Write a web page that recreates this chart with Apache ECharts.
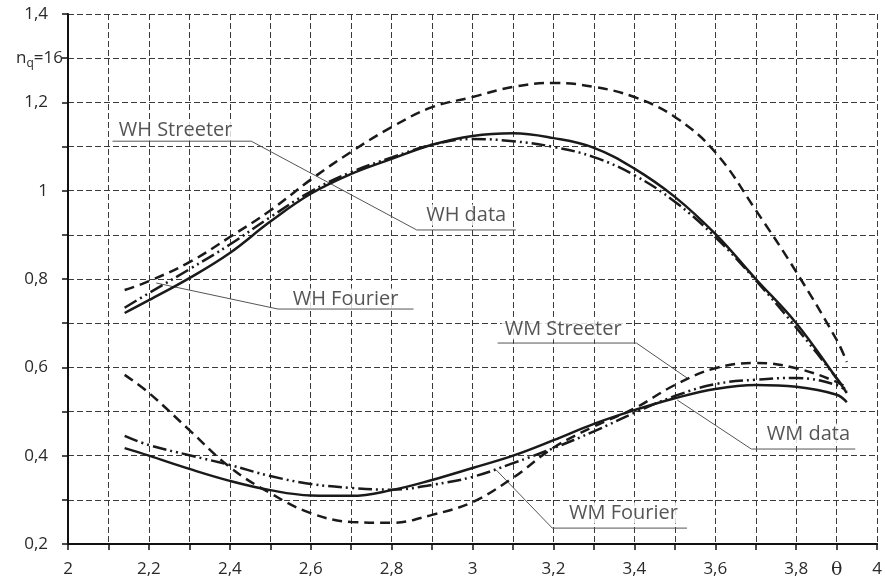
<!DOCTYPE html>
<html>
<head>
<meta charset="utf-8">
<script src="https://cdn.jsdelivr.net/npm/echarts@6/dist/echarts.min.js"></script>
<style>
  html, body { margin: 0; padding: 0; background: #fff; }
  #chart { width: 885px; height: 583px; }
</style>
</head>
<body>
<div id="chart"></div>
<script>
var thetas = [2.14, 2.2, 2.3, 2.4, 2.5, 2.6, 2.7, 2.8, 2.9, 3.0, 3.1, 3.2, 3.3, 3.4, 3.5, 3.6, 3.7, 3.8, 3.9, 3.925];

var whData     = [0.723, 0.752, 0.802, 0.859, 0.93, 0.993, 1.038, 1.072, 1.104, 1.124, 1.13, 1.119, 1.097, 1.05, 0.986, 0.902, 0.8, 0.7, 0.575, 0.542];
var whStreeter = [0.775, 0.795, 0.838, 0.895, 0.955, 1.025, 1.088, 1.144, 1.189, 1.212, 1.235, 1.244, 1.235, 1.212, 1.167, 1.087, 0.956, 0.816, 0.662, 0.612];
var whFourier  = [0.735, 0.768, 0.822, 0.878, 0.94, 0.998, 1.042, 1.075, 1.104, 1.117, 1.112, 1.099, 1.076, 1.035, 0.975, 0.895, 0.797, 0.69, 0.575, 0.545];

var wmData     = [0.417, 0.4, 0.37, 0.343, 0.322, 0.31, 0.309, 0.322, 0.345, 0.372, 0.4, 0.435, 0.472, 0.503, 0.53, 0.551, 0.56, 0.556, 0.538, 0.521];
var wmStreeter = [0.583, 0.542, 0.458, 0.374, 0.315, 0.27, 0.25, 0.248, 0.266, 0.295, 0.35, 0.418, 0.466, 0.507, 0.56, 0.598, 0.61, 0.598, 0.567, 0.553];
var wmFourier  = [0.445, 0.424, 0.401, 0.379, 0.354, 0.336, 0.327, 0.323, 0.334, 0.352, 0.383, 0.417, 0.455, 0.497, 0.535, 0.562, 0.572, 0.576, 0.56, 0.545];

// annotation texts and their leader lines (data coords)
var noteNames = ['WH Streeter', 'WH data', 'WH Fourier', 'WM Streeter', 'WM data', 'WM Fourier'];
var notePos = [[2.118, 1.137], [2.878, 0.945], [2.548, 0.755], [3.072, 0.687], [3.72, 0.449], [3.231, 0.270]];
var leaders = [
  [[2.110, 1.112], [2.453, 1.112], [2.862, 0.911], [3.107, 0.911]],
  [[2.218, 0.791], [2.519, 0.732], [2.854, 0.732]],
  [[3.062, 0.655], [3.405, 0.655], [3.530, 0.576]],
  [[3.506, 0.526], [3.689, 0.415], [3.946, 0.415]],
  [[3.058, 0.368], [3.197, 0.236], [3.530, 0.236]]
];

var FONT = '"Open Sans", "DejaVu Sans", sans-serif';
var INK = '#1a1a1a';

function pairs(ys) {
  return thetas.map(function (t, i) { return [t, ys[i]]; });
}

function curve(name, ys, dash) {
  return {
    name: name,
    type: 'line',
    data: pairs(ys),
    smooth: 0.4,
    symbol: 'none',
    z: 4,
    lineStyle: { color: INK, width: 2.5, type: dash, cap: 'butt' }
  };
}

var myChart = echarts.init(document.getElementById('chart'));

var series = [
  curve('WH data', whData, 'solid'),
  curve('WH Streeter', whStreeter, [10, 6]),
  curve('WH Fourier', whFourier, [14, 4, 2, 4, 2, 4]),
  curve('WM data', wmData, 'solid'),
  curve('WM Streeter', wmStreeter, [10, 6]),
  curve('WM Fourier', wmFourier, [14, 4, 2, 4, 2, 4])
];

leaders.forEach(function (pts) {
  series.push({
    type: 'line',
    data: pts,
    symbol: 'none',
    silent: true,
    z: 3,
    lineStyle: { color: '#555', width: 1 }
  });
});

series.push({
  type: 'scatter',
  symbolSize: 0,
  silent: true,
  z: 2,
  data: notePos.map(function (p, i) { return { value: p, name: noteNames[i] }; }),
  label: {
    show: true,
    position: 'right',
    distance: 0,
    formatter: '{b}',
    fontFamily: FONT,
    fontSize: 20,
    color: '#2a2a2a',
    backgroundColor: '#fff',
    padding: [1, 3, 0, 3]
  }
});

var option = {
  animation: false,
  backgroundColor: '#fff',
  grid: { left: 68, right: 0, top: 14, bottom: 39 },
  xAxis: {
    type: 'value',
    min: 2,
    max: 4,
    interval: 0.1,
    axisLine: { show: true, onZero: false, lineStyle: { color: '#111', width: 2 } },
    axisTick: { show: true, length: 6, lineStyle: { color: '#111', width: 1.5 } },
    splitLine: { show: true, lineStyle: { color: '#3a3a3a', width: 1, type: [6, 3] } },
    axisLabel: {
      showMinLabel: true,
      showMaxLabel: true,
      margin: 17,
      fontFamily: FONT,
      fontSize: 17,
      color: '#2a2a2a',
      formatter: function (v) {
        var k = Math.round(v * 10);
        if (k === 39) return '{th|θ}';
        if (k % 2 !== 0) return '';
        return (k / 10).toString().replace('.', ',');
      },
      rich: {
        th: { fontFamily: '"DejaVu Serif", serif', fontSize: 19, color: '#2a2a2a' }
      }
    }
  },
  yAxis: {
    type: 'value',
    min: 0.2,
    max: 1.4,
    interval: 0.1,
    axisLine: { show: true, onZero: false, lineStyle: { color: '#111', width: 2 } },
    axisTick: { show: true, length: 6, lineStyle: { color: '#111', width: 1.5 } },
    splitLine: { show: true, lineStyle: { color: '#3a3a3a', width: 1, type: [6, 3] } },
    axisLabel: {
      showMinLabel: true,
      showMaxLabel: true,
      margin: 5,
      fontFamily: FONT,
      fontSize: 17,
      color: '#2a2a2a',
      formatter: function (v) {
        var k = Math.round(v * 10);
        if (k === 13) return 'n{sub|q}=16';
        if (k % 2 !== 0) return '';
        return (k / 10).toString().replace('.', ',') + '{sp| }';
      },
      rich: {
        sub: { fontFamily: FONT, fontSize: 12, color: '#2a2a2a', padding: [10, 0, 0, 0] },
        sp: { width: 15 }
      }
    }
  },
  series: series
};

myChart.setOption(option);
</script>
</body>
</html>
